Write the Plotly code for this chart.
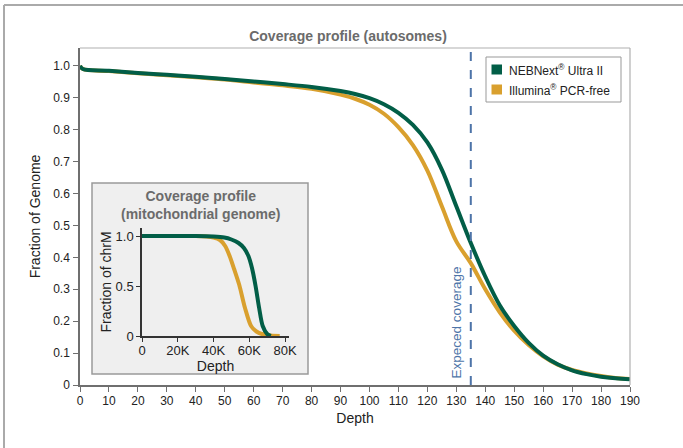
import plotly.graph_objects as go

# ---- main chart data (autosomes) ----
depth = [0, 1, 10, 20, 30, 40, 50, 60, 70, 80, 90, 95, 100, 105, 110, 115, 120, 125,
         130, 135, 140, 145, 150, 155, 160, 165, 170, 175, 180, 185, 190]
neb_auto = [1.0, 0.99, 0.985, 0.978, 0.972, 0.966, 0.959, 0.951, 0.943, 0.934, 0.921,
            0.912, 0.899, 0.88, 0.853, 0.815, 0.76, 0.675, 0.56, 0.445, 0.34, 0.25,
            0.185, 0.132, 0.092, 0.065, 0.046, 0.034, 0.026, 0.021, 0.018]
ill_auto = [1.0, 0.99, 0.984, 0.977, 0.971, 0.964, 0.957, 0.948, 0.939, 0.928, 0.91,
            0.897, 0.878, 0.85, 0.808, 0.752, 0.672, 0.56, 0.45, 0.382, 0.3, 0.228,
            0.17, 0.125, 0.09, 0.064, 0.047, 0.036, 0.028, 0.022, 0.019]

# ---- inset data (mitochondrial genome) ----
neb_mt_depth = [0, 30000, 40000, 46000, 50000, 54000, 57000, 59500, 61500, 63500,
                65500, 67500, 70000, 72000]
neb_mt = [1.0, 1.0, 0.995, 0.985, 0.965, 0.93, 0.88, 0.8, 0.68, 0.5,
          0.28, 0.1, 0.02, 0.0]
ill_mt_depth = [0, 30000, 36000, 40000, 43600, 46500, 49000, 51500, 54400, 57600,
                61000, 64000, 67000, 72000, 77000]
ill_mt = [1.0, 1.0, 0.995, 0.985, 0.96, 0.9, 0.8, 0.67, 0.51, 0.28,
          0.1, 0.045, 0.02, 0.005, 0.0]

x_ticks = list(range(0, 191, 10))
y_ticks = [0, 0.1, 0.2, 0.3, 0.4, 0.5, 0.6, 0.7, 0.8, 0.9, 1.0]
y_ticklabels = ["0", "0.1", "0.2", "0.3", "0.4", "0.5", "0.6", "0.7", "0.8", "0.9", "1.0"]
inset_x_ticks = [0, 20000, 40000, 60000, 80000]
inset_x_labels = ["0", "20K", "40K", "60K", "80K"]
inset_y_ticks = [0, 0.5, 1.0]
inset_y_labels = ["0", "0.5", "1.0"]

expected_coverage = 135
series_names = ["NEBNext<sup>®</sup> Ultra II", "Illumina<sup>®</sup> PCR-free"]

GREEN = "#025e47"
GOLD = "#d9a02e"
DASH = "#4d74a8"
FONT = "Liberation Sans, Arial, Helvetica, sans-serif"

L, R, T, B = 80, 53, 48, 63
W, H = 683, 448
pw, ph = W - L - R, H - T - B

def px(xp):
    return (xp - L) / pw

def py(yp):
    return (H - B - yp) / ph

fig = go.Figure()

# main curves (gold first so green on top)
fig.add_trace(go.Scatter(x=depth, y=ill_auto, mode="lines", name=series_names[1],
                         line=dict(color=GOLD, width=4, shape="spline"),
                         showlegend=False, hoverinfo="skip"))
fig.add_trace(go.Scatter(x=depth, y=neb_auto, mode="lines", name=series_names[0],
                         line=dict(color=GREEN, width=4, shape="spline"),
                         showlegend=False, hoverinfo="skip"))

# inset curves
fig.add_trace(go.Scatter(x=ill_mt_depth, y=ill_mt, mode="lines", name=series_names[1],
                         line=dict(color=GOLD, width=4, shape="spline", smoothing=0.8),
                         xaxis="x2", yaxis="y2", showlegend=False, hoverinfo="skip"))
fig.add_trace(go.Scatter(x=neb_mt_depth, y=neb_mt, mode="lines", name=series_names[0],
                         line=dict(color=GREEN, width=4, shape="spline", smoothing=0.8),
                         xaxis="x2", yaxis="y2", showlegend=False, hoverinfo="skip"))

axis_common = dict(showline=True, linecolor="#6f6f6f", linewidth=1.5, ticks="outside",
                   ticklen=5, tickcolor="#6f6f6f", tickwidth=1.2, showgrid=False, zeroline=False,
                   tickfont=dict(size=12, color="#222222", family=FONT))
inset_common = dict(axis_common)
inset_common.update(linecolor="#333333", tickcolor="#333333", ticklen=4,
                    tickfont=dict(size=13, color="#222222", family=FONT))

fig.update_layout(
    width=W, height=H,
    margin=dict(l=L, r=R, t=T, b=B, autoexpand=False),
    paper_bgcolor="white", plot_bgcolor="rgba(0,0,0,0)",
    font=dict(family=FONT, color="#222222"),
    title=dict(text="<b>Coverage profile (autosomes)</b>", xref="container", x=348 / W,
               xanchor="center", yref="container", y=1 - 36 / H, yanchor="middle",
               font=dict(size=14, color="#6b6b6b", family=FONT)),
    xaxis=dict(range=[0, 190], tickvals=x_ticks, domain=[0, 1], ticklabelstandoff=-1,
               title=dict(text="Depth", standoff=6, font=dict(size=14, color="#222222")),
               **axis_common),
    yaxis=dict(range=[0, 1.056], tickvals=y_ticks, ticktext=y_ticklabels, domain=[0, 1],
               ticklabelstandoff=1,
               title=dict(text="Fraction of Genome", standoff=9, font=dict(size=14, color="#222222")),
               **axis_common),
    xaxis2=dict(range=[0, 82200], tickvals=inset_x_ticks, ticktext=inset_x_labels,
                domain=[px(142), px(289)], anchor="y2", ticklabelstandoff=-2,
                title=dict(text="Depth", standoff=1, font=dict(size=14, color="#222222")),
                **inset_common),
    yaxis2=dict(range=[0, 1.08], tickvals=inset_y_ticks, ticktext=inset_y_labels,
                domain=[py(336), py(228)], anchor="x2", ticklabelstandoff=0,
                title=dict(text="Fraction of chrM", standoff=1, font=dict(size=14, color="#222222")),
                **inset_common),
    showlegend=False,
)

shapes = [
    # inset panel background
    dict(type="rect", xref="paper", yref="paper", x0=px(92), x1=px(308), y0=py(374), y1=py(183),
         fillcolor="#efefef", line=dict(color="#9a9a9a", width=1.5), layer="below"),
    # plot frame top and right
    dict(type="line", xref="paper", yref="paper", x0=0, x1=1, y0=1, y1=1,
         line=dict(color="#b0b0b0", width=1.2)),
    dict(type="line", xref="paper", yref="paper", x0=1, x1=1, y0=0, y1=1,
         line=dict(color="#b0b0b0", width=1.2)),
    # outer frame (left and top)
    dict(type="line", xref="paper", yref="paper", x0=px(4), x1=px(4), y0=py(H + 2), y1=py(5),
         line=dict(color="#aaaaaa", width=2)),
    dict(type="line", xref="paper", yref="paper", x0=px(4), x1=px(W + 2), y0=py(5), y1=py(5),
         line=dict(color="#aaaaaa", width=2)),
    # expected coverage dashed line
    dict(type="line", xref="x", yref="paper", x0=expected_coverage, x1=expected_coverage, y0=0, y1=1,
         line=dict(color=DASH, width=2, dash="dash")),
    # legend box
    dict(type="rect", xref="paper", yref="paper", x0=px(486), x1=px(621), y0=py(102), y1=py(57),
         fillcolor="white", line=dict(color="#999999", width=1)),
]
# legend swatches
legend_rows_y = [69.5, 89.5]
for col, yc in zip([GREEN, GOLD], legend_rows_y):
    shapes.append(dict(type="rect", xref="paper", yref="paper", x0=px(491.5), x1=px(502),
                       y0=py(yc + 5), y1=py(yc - 5), fillcolor=col, line=dict(width=0)))
fig.update_layout(shapes=shapes)

for name, yc in zip(series_names, legend_rows_y):
    fig.add_annotation(x=px(507), y=py(yc), xref="paper", yref="paper", text=name,
                       showarrow=False, xanchor="left", yanchor="middle",
                       font=dict(size=12, color="#222222", family=FONT))

fig.add_annotation(x=expected_coverage, y=0.197, xref="x", yref="y", text="Expeced coverage",
                   textangle=-90, showarrow=False, xanchor="right", xshift=-5,
                   font=dict(size=13.5, color=DASH, family=FONT))
fig.add_annotation(x=px(200), y=py(205), xref="paper", yref="paper",
                   text="<b>Coverage profile<br>(mitochondrial genome)</b>",
                   showarrow=False, xanchor="center", yanchor="middle",
                   font=dict(size=14, color="#6b6b6b", family=FONT))

fig.write_html("out.html", config={"displayModeBar": False},
               post_script="document.body.style.margin='0';document.body.style.padding='0';")
